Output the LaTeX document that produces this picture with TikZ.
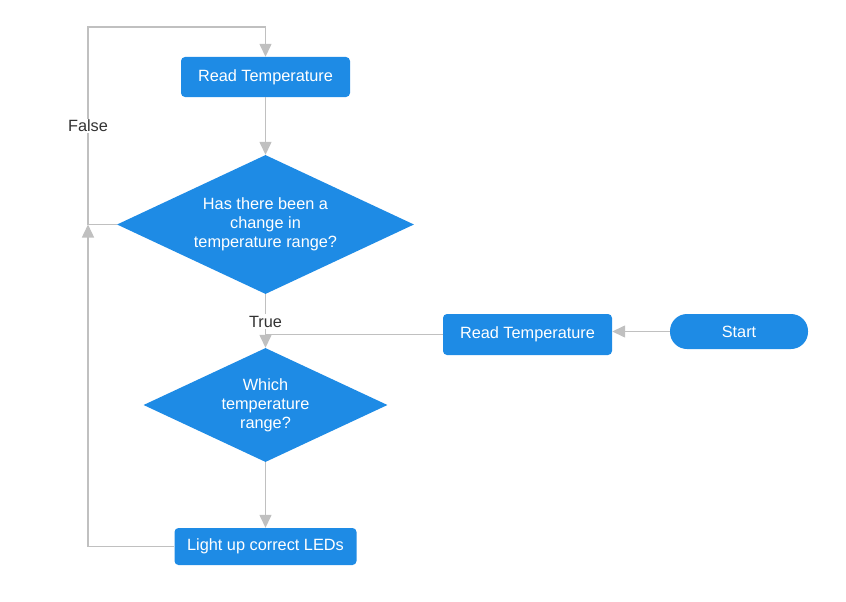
\documentclass[tikz,border=0pt]{standalone}
\usepackage{fontspec}
\setmainfont{Liberation Sans}
\usetikzlibrary{arrows.meta,shapes.geometric}
\definecolor{boxblue}{RGB}{30,139,229}
\definecolor{linegray}{RGB}{192,192,192}
\definecolor{labelgray}{RGB}{51,51,51}
\tikzset{
  proc/.style={draw=none,fill=boxblue,rounded corners=4pt,text=white,inner sep=0pt,
    font=\fontsize{16.3}{19}\selectfont},
  term/.style={draw=none,fill=boxblue,rounded corners=17pt,text=white,inner sep=0pt,
    font=\fontsize{16.3}{19}\selectfont},
  dec/.style={diamond,draw=none,fill=boxblue,text=white,inner sep=0pt,align=center,
    shape aspect=2.14,font=\fontsize{16.3}{19}\selectfont},
  conn/.style={draw=linegray,line width=1.4pt},
  arr/.style={conn,-{Triangle[length=13pt,width=12pt]}},
  lbl/.style={text=labelgray,fill=white,inner sep=1.5pt,font=\fontsize{16.3}{19}\selectfont}
}
\begin{document}
\begin{tikzpicture}[x=1pt,y=-1pt]
\useasboundingbox (0,0) rectangle (846,602);
\node[proc,minimum width=169pt,minimum height=40pt] (rt1) at (265.5,77) {Read Temperature};
\node[dec,minimum width=297pt,minimum height=139pt] (d1) at (265.5,224.5) {Has there been a\\change in\\temperature range?};
\node[proc,minimum width=169pt,minimum height=41pt] (rt2) at (527.5,334.5) {Read Temperature};
\node[term,minimum width=138pt,minimum height=35pt] (start) at (739,331.5) {Start};
\node[dec,minimum width=244pt,minimum height=114pt] (d2) at (265.5,405) {Which\\temperature\\range?};
\node[proc,minimum width=182pt,minimum height=37pt] (led) at (265.5,546.5) {Light up correct LEDs};
\coordinate (lx) at (88,224.5);
\coordinate (top) at (88,27);
\coordinate (join) at (265.5,334.5);
% connectors
\draw[arr] (start.west) -- (start.west -| rt2.east);
\draw[conn] (rt2.west) -- (join);
\draw[arr] (d1.south) -- (d2.north);
\draw[arr] (rt1.south) -- (d1.north);
\draw[arr] (d2.south) -- (led.north);
\draw[arr] (led.west) -| (lx);
\draw[arr] (d1.west) -- (lx) -- (top) -| (rt1.north);
\node[lbl] (false) at (88,126) {False};
\node[lbl] (true) at (265.5,321.5) {True};
\end{tikzpicture}
\end{document}
